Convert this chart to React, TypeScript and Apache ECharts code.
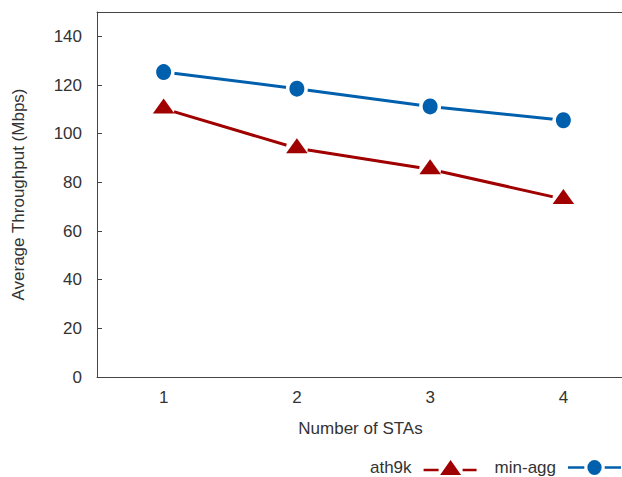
import React, { useEffect, useRef } from "react";
import * as echarts from "echarts";

const categories = ["1", "2", "3", "4"];
const ath9k = [110.3, 94.0, 85.4, 73.1];
const minAgg = [125.3, 118.5, 111.2, 105.5];
const seriesNames = ["ath9k", "min-agg"];

const RED = "#a00000";
const BLUE = "#0060ad";
const TXT = "#333";
const AX = "#444";
const FONT = "Liberation Sans";

export default function App() {
  const ref = useRef<HTMLDivElement>(null);
  useEffect(() => {
    if (!ref.current) return;
    const chart = echarts.init(ref.current, undefined, { renderer: "svg" });
    const axisLineStyle = { lineStyle: { color: AX, width: 1 } };
    const triIcon =
      "path://M0,8.75H15V11.25H0Z M16.5,15L27,0L37.5,15Z M39,8.75H53V11.25H39Z";
    const circIcon =
      "path://M0,6.25H16V8.75H0Z M19,7.5A7,7,0,1,0,33,7.5A7,7,0,1,0,19,7.5Z M36,6.25H52V8.75H36Z";
    chart.setOption({
      animation: false,
      textStyle: { fontFamily: FONT },
      grid: { left: 97, width: 533, top: 12, bottom: 100, outerBoundsMode: "none", containLabel: false },
      legend: {
        right: 1,
        top: 459,
        padding: 0,
        orient: "horizontal",
        align: "right",
        itemWidth: 53,
        itemHeight: 15,
        itemGap: 18,
        symbolKeepAspect: false,
        selectedMode: false,
        textStyle: {
          fontSize: 17,
          lineHeight: 14,
          color: TXT,
          fontFamily: FONT,
          padding: [0, 7, 0, 0],
        },
        data: [
          {
            name: seriesNames[0],
            icon: triIcon,
            itemStyle: { color: RED, opacity: 1, borderWidth: 0 },
          },
          {
            name: seriesNames[1],
            icon: circIcon,
            itemStyle: { color: BLUE, opacity: 1, borderWidth: 0 },
          },
        ],
      },
      xAxis: [
        {
          type: "category",
          data: categories,
          boundaryGap: true,
          position: "bottom",
          name: "Number of STAs",
          nameLocation: "middle",
          nameGap: 43,
          nameTextStyle: { fontSize: 17, color: TXT, fontFamily: FONT, padding: [0, 6, 0, 0] },
          axisLine: axisLineStyle,
          axisTick: { inside: true, alignWithLabel: true, length: 5, lineStyle: { color: AX } },
          axisLabel: { fontSize: 17, color: TXT, margin: 12, fontFamily: FONT },
          splitLine: { show: false },
        },
        {
          type: "category",
          data: categories,
          boundaryGap: true,
          position: "top",
          axisLine: axisLineStyle,
          axisTick: { inside: true, alignWithLabel: true, length: 5, lineStyle: { color: AX } },
          axisLabel: { show: false },
          splitLine: { show: false },
        },
      ],
      yAxis: [
        {
          type: "value",
          min: 0,
          max: 150,
          interval: 20,
          name: "Average Throughput (Mbps)",
          nameLocation: "middle",
          nameGap: 70,
          nameTextStyle: { fontSize: 17, color: TXT, fontFamily: FONT },
          axisLine: { show: true, ...axisLineStyle },
          axisTick: { show: true, inside: true, length: 5, lineStyle: { color: AX } },
          axisLabel: { fontSize: 17, color: TXT, margin: 15, showMaxLabel: false, fontFamily: FONT },
          splitLine: { show: false },
        },
      ],
      series: [
        {
          name: seriesNames[0],
          type: "line",
          data: ath9k,
          symbol: "none",
          z: 2,
          itemStyle: { color: RED },
          lineStyle: { color: RED, width: 3 },
        },
        {
          name: seriesNames[1],
          type: "line",
          data: minAgg,
          symbol: "none",
          z: 2,
          itemStyle: { color: BLUE },
          lineStyle: { color: BLUE, width: 3 },
        },
        {
          name: "ath9k-gap",
          type: "scatter",
          data: ath9k,
          symbol: "circle",
          symbolSize: 22,
          silent: true,
          z: 3,
          itemStyle: { color: "#ffffff", opacity: 1 },
        },
        {
          name: "min-agg-gap",
          type: "scatter",
          data: minAgg,
          symbol: "circle",
          symbolSize: 22,
          silent: true,
          z: 3,
          itemStyle: { color: "#ffffff", opacity: 1 },
        },
        {
          name: "ath9k-pt",
          type: "scatter",
          data: ath9k,
          symbol: "triangle",
          symbolSize: [21.5, 15],
          symbolOffset: [0, -2.5],
          z: 4,
          itemStyle: { color: RED, opacity: 1 },
        },
        {
          name: "min-agg-pt",
          type: "scatter",
          data: minAgg,
          symbol: "circle",
          symbolSize: [15, 16],
          z: 4,
          itemStyle: { color: BLUE, opacity: 1 },
        },
      ],
    });
    return () => chart.dispose();
  }, []);
  return (
    <div
      ref={ref}
      style={{ position: "fixed", left: 0, top: 0, width: 622, height: 477, background: "#fff" }}
    />
  );
}
